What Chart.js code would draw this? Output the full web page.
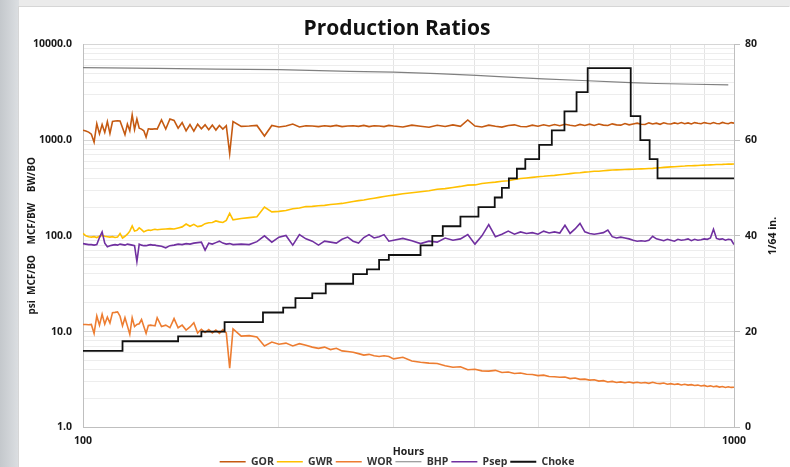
<!DOCTYPE html>
<html>
<head>
<meta charset="utf-8">
<title>Production Ratios</title>
<script src="https://cdn.jsdelivr.net/npm/chart.js@4.4.1/dist/chart.umd.min.js"></script>
<style>
  html, body { margin: 0; padding: 0; width: 790px; height: 467px; overflow: hidden; }
  body { background: linear-gradient(90deg, #c4c8cc 0px, #dcdfe2 19px, #ebebeb 19px); }
  #panel { position: absolute; left: 19px; top: 7px; width: 771px; height: 470px; background: #fff; box-shadow: -1px -1px 0 #d6d6d6; }
  #chart { position: absolute; left: 0; top: 0; }
</style>
</head>
<body>
<div id="panel"><canvas id="chart" width="771" height="470"></canvas></div>
<script>
// hours shared by GOR, GWR, WOR and Psep
const hours = [
  100, 101, 102, 103, 104, 105, 106, 107, 108, 109, 110, 111, 112, 113, 114, 115, 116, 117, 118, 119, 120, 121, 122, 123, 124, 125, 126, 127, 128, 129, 130,
  132, 134, 136, 138, 140, 142, 144, 146, 148, 150, 152, 154, 156, 158, 160, 162, 164, 166, 168, 170,
  175, 180, 185, 190, 195, 200, 205, 210, 215, 220, 225, 230, 235, 240, 245, 250, 255, 260, 265, 270, 275, 280, 285, 290, 295, 300,
  310, 320, 330, 340, 350, 360, 370, 380, 390, 400,
  410, 420, 430, 440, 450, 460, 470, 480, 490, 500,
  510, 520, 530, 540, 550, 560, 570, 580, 590, 600,
  610, 620, 630, 640, 650, 660, 670, 680, 690, 700,
  710, 720, 730, 740, 750, 760, 770, 780, 790, 800,
  810, 820, 830, 840, 850, 860, 870, 880, 890, 900,
  910, 920, 930, 940, 950, 960, 970, 980, 990, 1000
];

const gor = [
  1265, 1240, 1210, 1150, 950, 1480, 1160, 1450, 1200, 1560, 1170, 1560, 1580, 1590, 1580, 1340, 1140, 1470, 1250, 1830, 1290, 1660, 1330, 1300, 1250, 1075, 1310, 1300, 1300, 1310, 1300,
  1620, 1300, 1660, 1600, 1330, 1520, 1250, 1450, 1240, 1460, 1310, 1440, 1280, 1430, 1270, 1420, 1300, 1410, 720, 1560,
  1390, 1400, 1420, 1100, 1420, 1370, 1400, 1470, 1370, 1410, 1400, 1380, 1410, 1390, 1420, 1380, 1400, 1410, 1390, 1420, 1380, 1410, 1400, 1380, 1420, 1400,
  1370, 1430, 1395, 1360, 1425, 1385, 1440, 1390, 1620, 1400,
  1370, 1430, 1390, 1365, 1420, 1440, 1385, 1375, 1430, 1395,
  1445, 1400, 1450, 1410, 1460, 1425, 1400, 1455, 1420, 1465,
  1420, 1470, 1430, 1420, 1475, 1440, 1430, 1485, 1440, 1470,
  1500, 1460, 1450, 1510, 1470, 1500, 1460, 1515, 1480, 1470,
  1510, 1480, 1520, 1480, 1510, 1470, 1520, 1495, 1480, 1520,
  1495, 1480, 1520, 1490, 1480, 1525, 1495, 1480, 1520, 1500
];

const gwr = [
  106, 100, 98, 97, 98, 96, 99, 101, 99, 98, 97, 98, 96, 97, 106, 95, 99, 104, 112, 127, 112, 114, 121, 116, 110, 113, 115, 114, 116, 117, 116,
  117, 118, 119, 118, 121, 124, 133, 126, 132, 125, 127, 134, 137, 138, 143, 140, 138, 145, 172, 147,
  152, 155, 158, 200, 178, 180, 184, 192, 195, 202, 203, 206, 208, 212, 215, 218, 223, 228, 233, 237, 242, 247, 252, 257, 262, 266,
  275, 282, 289, 296, 306, 311, 320, 328, 338, 340,
  352, 358, 364, 372, 376, 388, 396, 402, 408, 414,
  418, 424, 428, 434, 440, 446, 452, 456, 462, 466,
  472, 473, 478, 482, 486, 488, 490, 492, 494, 496,
  498, 500, 502, 504, 506, 510, 514, 518, 521, 524,
  527, 530, 533, 535, 538, 538, 541, 543, 545, 547,
  549, 551, 553, 555, 556, 557, 559, 560, 561, 562
];

const wor = [
  11.9, 11.9, 11.8, 11.9, 9.6, 14.6, 11.7, 15.2, 12, 14.2, 12.3, 15.8, 15.9, 16.1, 14.5, 11.5, 14, 11.5, 9.4, 14, 11.3, 11.9, 12.1, 13.4, 11.3, 9.6, 11.6, 11.7, 11.6, 11.5, 14,
  11.3, 11.7, 11, 13.7, 11, 11.7, 10.4, 11.2, 12.4, 9.7, 10.6, 9.8, 10.5, 9.7, 10.4, 9.6, 10.5, 9.7, 4.17, 10.7,
  9, 9.1, 8.8, 7.1, 7.8, 7.4, 7.6, 7.1, 7.5, 7.2, 6.9, 6.7, 6.9, 6.5, 6.7, 6.3, 6.2, 6.1, 5.9, 5.7, 5.8, 5.6, 5.5, 5.6, 5.5, 5.2,
  5.4, 4.95, 4.8, 4.7, 4.65, 4.4, 4.25, 4.3, 4.0, 4.05,
  3.9, 3.88, 3.95, 3.75, 3.8, 3.66, 3.7, 3.6, 3.58, 3.48,
  3.52, 3.4, 3.38, 3.34, 3.36, 3.24, 3.28, 3.18, 3.2, 3.12,
  3.15, 3.05, 3.08, 2.99, 3.03, 2.95, 2.99, 2.93, 2.98, 2.92,
  2.97, 2.91, 2.95, 2.89, 2.96, 2.9, 2.87, 2.91, 2.83, 2.87,
  2.81, 2.85, 2.78, 2.83, 2.77, 2.8, 2.74, 2.77, 2.71, 2.75,
  2.68, 2.72, 2.66, 2.7, 2.64, 2.68, 2.62, 2.66, 2.62, 2.63
];

const psep = [
  83, 82, 81, 81, 80, 81, 96, 110, 84, 77, 79, 80, 81, 80, 82, 81, 80, 82, 81, 80, 79, 54, 82, 80, 79, 79, 80, 81, 80, 80, 79,
  78, 75, 79, 80, 82, 81, 83, 82, 84, 85, 86, 71, 84, 82, 85, 88, 84, 82, 83, 81,
  82, 81, 87, 100, 86, 97, 101, 80, 103, 93, 88, 80, 88, 86, 84, 92, 97, 88, 84, 96, 103, 95, 98, 103, 88, 90,
  94, 89, 83, 88, 86, 95, 90, 93, 103, 82,
  100, 131, 98, 104, 112, 104, 110, 106, 108, 104,
  112, 107, 110, 107, 129, 106, 118, 135, 110, 106,
  104, 106, 108, 115, 98, 95, 97, 95, 93, 90,
  88, 89, 88, 90, 99, 93, 91, 89, 92, 90,
  88, 92, 90, 91, 93, 89, 92, 90, 91, 93,
  92, 95, 117, 94, 92, 93, 90, 92, 91, 81
];

const bhpHours = [100, 130, 160, 200, 257, 300, 350, 402, 450, 509, 585, 693, 760, 870, 980];
const bhp = [5690, 5600, 5500, 5420, 5200, 5100, 4930, 4720, 4540, 4355, 4180, 3980, 3890, 3820, 3760];

// choke changes: hour of change and new size (1/64 in.)
const chokeHours = [100, 115, 140, 152, 165, 189, 203, 212, 225, 236, 260, 273, 285, 295, 330, 344, 357, 380, 405, 429,
  440, 451, 464, 478, 502, 525, 549, 573, 596, 694, 718, 742, 763, 1000];
const choke = [16, 18, 19, 20, 22, 24, 25, 27, 28, 30, 32, 33, 35, 36, 38, 40, 42, 44, 46, 48,
  50, 52, 54, 56, 59, 62, 66, 70, 75, 65, 60, 56, 52, 52];

const xTicks = [100, 200, 300, 400, 500, 600, 700, 800, 900, 1000];
const xLabelled = [100, 1000];
const yTicks = [1, 2, 3, 4, 5, 6, 7, 8, 9, 10, 20, 30, 40, 50, 60, 70, 80, 90, 100, 200, 300, 400, 500, 600, 700, 800, 900,
  1000, 2000, 3000, 4000, 5000, 6000, 7000, 8000, 9000, 10000];
const yLabelled = [1, 10, 100, 1000, 10000];
const chokeTicks = [0, 20, 40, 60, 80];

const pts = (xs, ys) => xs.map((x, i) => ({ x: x, y: ys[i] }));

const tickFont = { size: 10.5, weight: 'bold' };
const textColor = '#1a1a1a';

Chart.defaults.font.family = '"Open Sans", sans-serif';

const rightTitle = {
  id: 'rightTitle',
  afterDraw(chart) {
    const ctx = chart.ctx;
    const area = chart.chartArea;
    ctx.save();
    ctx.translate(chart.scales.y2.right - 2, (area.top + area.bottom) / 2);
    ctx.rotate(-Math.PI / 2);
    ctx.font = 'bold 10.5px "Open Sans", sans-serif';
    ctx.fillStyle = textColor;
    ctx.textAlign = 'center';
    ctx.textBaseline = 'middle';
    ctx.fillText('1/64 in.', 0, 0);
    ctx.restore();
  }
};

new Chart(document.getElementById('chart'), {
  type: 'line',
  data: {
    datasets: [
      { label: 'GOR', data: pts(hours, gor), borderColor: '#c55a11', borderWidth: 1.6, yAxisID: 'y', order: 5 },
      { label: 'GWR', data: pts(hours, gwr), borderColor: '#ffc000', borderWidth: 1.6, yAxisID: 'y', order: 4 },
      { label: 'WOR', data: pts(hours, wor), borderColor: '#ed7d31', borderWidth: 1.6, yAxisID: 'y', order: 3 },
      { label: 'BHP', data: pts(bhpHours, bhp), borderColor: '#808080', borderWidth: 1.2, yAxisID: 'y', order: 2 },
      { label: 'Psep', data: pts(hours, psep), borderColor: '#7030a0', borderWidth: 1.6, yAxisID: 'y', order: 1 },
      { label: 'Choke', data: pts(chokeHours, choke), borderColor: '#111111', borderWidth: 1.8, stepped: 'before', yAxisID: 'y2', order: 0 }
    ]
  },
  options: {
    responsive: false,
    animation: false,
    layout: { padding: { left: 0, right: 15, top: 0, bottom: 0 } },
    elements: { point: { radius: 0 }, line: { tension: 0 } },
    plugins: {
      title: {
        display: true,
        text: 'Production Ratios',
        color: '#111',
        font: { size: 21, weight: 'bold' },
        padding: { top: 9, bottom: 3 }
      },
      legend: {
        position: 'bottom',
        labels: {
          usePointStyle: true,
          pointStyle: 'line',
          pointStyleWidth: 26,
          boxHeight: 10.5,
          padding: 3,
          color: '#333',
          font: tickFont,
          sort: (a, b) => a.datasetIndex - b.datasetIndex
        }
      },
      tooltip: { enabled: false }
    },
    scales: {
      x: {
        type: 'logarithmic',
        min: 100,
        max: 1000,
        afterBuildTicks: s => { s.ticks = xTicks.map(v => ({ value: v })); },
        afterFit: s => { s.height = 26; },
        ticks: {
          autoSkip: false, maxRotation: 0, padding: 7, color: textColor, font: tickFont,
          callback: v => xLabelled.includes(v) ? String(v) : ''
        },
        grid: { color: '#e4e4e4', drawTicks: false },
        border: { color: '#bfbfbf' },
        title: { display: true, text: 'Hours', color: textColor, font: { size: 10.5, weight: 'bold' }, padding: { top: 0, bottom: -5 } }
      },
      y: {
        type: 'logarithmic',
        position: 'left',
        min: 1,
        max: 10000,
        afterBuildTicks: s => { s.ticks = yTicks.map(v => ({ value: v })); },
        afterFit: s => { s.width = 64; },
        ticks: {
          autoSkip: false, padding: 11, color: textColor, font: tickFont,
          callback: v => yLabelled.includes(v) ? v.toFixed(1) : ''
        },
        grid: { drawTicks: false, color: c => yLabelled.includes(c.tick.value) ? '#d6d6d6' : '#ededed' },
        border: { color: '#bfbfbf' },
        title: { display: true, text: 'psi  MCF/BO    MCF/BW    BW/BO', color: textColor, font: { size: 10, weight: 'bold' }, padding: { top: 7, bottom: 0 } }
      },
      y2: {
        type: 'linear',
        position: 'right',
        min: 0,
        max: 80,
        afterBuildTicks: s => { s.ticks = chokeTicks.map(v => ({ value: v })); },
        afterFit: s => { s.width = 41; },
        ticks: { padding: 5, color: textColor, font: tickFont },
        grid: { drawOnChartArea: false, drawTicks: true, tickLength: 6, color: '#bfbfbf' },
        border: { color: '#bfbfbf' }
      }
    }
  },
  plugins: [rightTitle]
});
</script>
</body>
</html>
